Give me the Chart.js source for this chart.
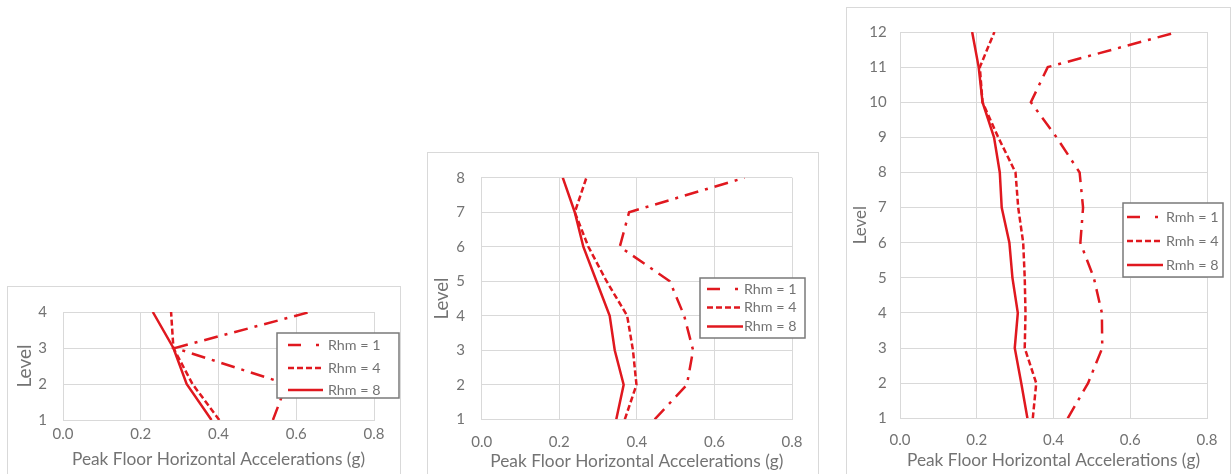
<!DOCTYPE html>
<html>
<head>
<meta charset="utf-8">
<script src="https://cdn.jsdelivr.net/npm/chart.js@4.4.1/dist/chart.umd.min.js"></script>
<style>
  html, body { margin: 0; padding: 0; background: #fff; width: 1232px; height: 474px; overflow: hidden; }
  .panel { position: absolute; box-sizing: border-box; border: 1px solid #d9d9d9; background: #fff; }
  canvas { position: absolute; }
</style>
</head>
<body>
<div class="panel" style="left:7px;top:286px;width:394px;height:220px"></div>
<div class="panel" style="left:427px;top:152px;width:392px;height:350px"></div>
<div class="panel" style="left:846px;top:7px;width:385px;height:500px"></div>
<canvas id="c1"></canvas>
<canvas id="c2"></canvas>
<canvas id="c3"></canvas>
<script>
// ---- data -------------------------------------------------------------
const xTicks = [0, 0.2, 0.4, 0.6, 0.8];

const levels4 = [1, 2, 3, 4];
const labels4 = ['Rhm = 1', 'Rhm = 4', 'Rhm = 8'];
const b4_r1 = [0.540, 0.575, 0.288, 0.635];
const b4_r4 = [0.402, 0.333, 0.284, 0.278];
const b4_r8 = [0.382, 0.318, 0.284, 0.231];

const levels8 = [1, 2, 3, 4, 5, 6, 7, 8];
const labels8 = ['Rhm = 1', 'Rhm = 4', 'Rhm = 8'];
const b8_r1 = [0.446, 0.529, 0.545, 0.522, 0.485, 0.356, 0.380, 0.678];
const b8_r4 = [0.369, 0.399, 0.390, 0.375, 0.322, 0.275, 0.240, 0.270];
const b8_r8 = [0.347, 0.366, 0.343, 0.330, 0.296, 0.262, 0.240, 0.209];

const levels12 = [1, 2, 3, 4, 5, 6, 7, 8, 9, 10, 11, 12];
const labels12 = ['Rmh = 1', 'Rmh = 4', 'Rmh = 8'];
const b12_r1 = [0.437, 0.490, 0.527, 0.526, 0.505, 0.470, 0.477, 0.468, 0.408, 0.341, 0.385, 0.723];
const b12_r4 = [0.346, 0.355, 0.325, 0.327, 0.325, 0.321, 0.308, 0.301, 0.256, 0.215, 0.208, 0.246];
const b12_r8 = [0.332, 0.316, 0.299, 0.307, 0.293, 0.285, 0.265, 0.260, 0.245, 0.215, 0.205, 0.188];

// ---- look -------------------------------------------------------------
const RED = '#e0181f';
const TEXT = '#737373';
const GRID = '#d9d9d9';
const FONT = 'Lato, "Open Sans", sans-serif';
// dash-dot, dashed, solid (plot pattern and legend-sample pattern)
const lineStyles = [
  { dash: [14, 7, 3, 7], legendDash: [13, 15, 3, 10] },
  { dash: [6, 3], legendDash: [6, 3] },
  { dash: [], legendDash: [] }
];

// Boxed legend drawn over the plot area
const boxLegend = {
  id: 'boxLegend',
  afterDatasetsDraw(chart, args, o) {
    const ctx = chart.ctx;
    ctx.save();
    ctx.fillStyle = '#fff';
    ctx.fillRect(o.x, o.y, o.w, o.h);
    ctx.strokeStyle = '#7a7a7a';
    ctx.lineWidth = 1.5;
    ctx.strokeRect(o.x, o.y, o.w, o.h);
    chart.data.datasets.forEach((ds, i) => {
      const y = o.rows[i];
      ctx.beginPath();
      ctx.setLineDash(ds.legendDash);
      ctx.strokeStyle = ds.borderColor;
      ctx.lineWidth = ds.borderWidth;
      ctx.moveTo(o.sampleX, y);
      ctx.lineTo(o.sampleX + o.sampleW, y);
      ctx.stroke();
      ctx.setLineDash([]);
      ctx.fillStyle = TEXT;
      ctx.font = '14.3px ' + FONT;
      ctx.textBaseline = 'middle';
      ctx.textAlign = 'left';
      ctx.fillText(ds.label, o.textX, y);
    });
    ctx.restore();
  }
};

function build(id, rect, levels, values, labels, lay, legend) {
  const cv = document.getElementById(id);
  cv.width = rect.w; cv.height = rect.h;
  cv.style.left = rect.x + 'px'; cv.style.top = rect.y + 'px';
  const datasets = values.map((vals, i) => ({
    label: labels[i],
    data: vals.map((v, k) => ({ x: v, y: levels[k] })),
    borderColor: RED,
    backgroundColor: RED,
    borderWidth: 2.5,
    borderDash: lineStyles[i].dash,
    legendDash: lineStyles[i].legendDash,
    pointRadius: 0,
    tension: 0,
    fill: false
  }));
  return new Chart(cv, {
    type: 'line',
    data: { datasets },
    options: {
      responsive: false,
      animation: false,
      devicePixelRatio: 1,
      layout: { padding: { left: 0, top: lay.top, right: lay.right, bottom: 0 } },
      plugins: {
        legend: { display: false },
        tooltip: { enabled: false },
        boxLegend: legend
      },
      scales: {
        x: {
          type: 'linear', min: 0, max: 0.8,
          afterBuildTicks: s => { s.ticks = xTicks.map(v => ({ value: v })); },
          afterFit: s => { s.height = lay.xh; },
          grid: { color: GRID, lineWidth: 1, drawTicks: false },
          border: { color: GRID },
          ticks: { padding: lay.xtp, color: TEXT, font: { family: FONT, size: 15 },
                   callback: v => Number(v).toFixed(1) },
          title: { display: true, text: 'Peak Floor Horizontal Accelerations (g)', color: TEXT,
                   font: { family: FONT, size: 17.3 }, padding: { top: 0, bottom: lay.xtb } }
        },
        y: {
          type: 'linear', min: levels[0], max: levels[levels.length - 1],
          afterBuildTicks: s => { s.ticks = levels.map(v => ({ value: v })); },
          afterFit: s => { s.width = lay.yw; },
          grid: { color: GRID, lineWidth: 1, drawTicks: false },
          border: { color: GRID },
          ticks: { padding: lay.ytp, color: TEXT, font: { family: FONT, size: 15 } },
          title: { display: true, text: 'Level', color: TEXT,
                   font: { family: FONT, size: lay.yts }, padding: { top: lay.ytt, bottom: 0 } }
        }
      }
    },
    plugins: [boxLegend]
  });
}

build('c1', { x: 7, y: 286, w: 393, h: 188 }, levels4, [b4_r1, b4_r4, b4_r8], labels4,
  { top: 26, right: 26, yw: 56, xh: 54, ytp: 16, ytt: 6, yts: 19, xtp: 4.8, xtb: 4.6 },
  { x: 270, y: 47, w: 122, h: 65, rows: [59, 82, 104], sampleX: 281, sampleW: 35, textX: 321 });

build('c2', { x: 427, y: 152, w: 391, h: 322 }, levels8, [b8_r1, b8_r4, b8_r8], labels8,
  { top: 23, right: 26, yw: 54.7, xh: 54.7, ytp: 16.7, ytt: 3.5, yts: 18.5, xtp: 14, xtb: 1.9 },
  { x: 273, y: 126, w: 105, h: 60, rows: [137, 155.5, 174.5], sampleX: 280, sampleW: 36, textX: 317 });

build('c3', { x: 846, y: 7, w: 384, h: 467 }, levels12, [b12_r1, b12_r4, b12_r8], labels12,
  { top: 25, right: 18.3, yw: 54, xh: 55.7, ytp: 13.3, ytt: 4, yts: 17, xtp: 12.5, xtb: 3.6 },
  { x: 277, y: 196, w: 100, h: 74, rows: [210, 234, 258], sampleX: 281, sampleW: 36, textX: 320 });
</script>
</body>
</html>
